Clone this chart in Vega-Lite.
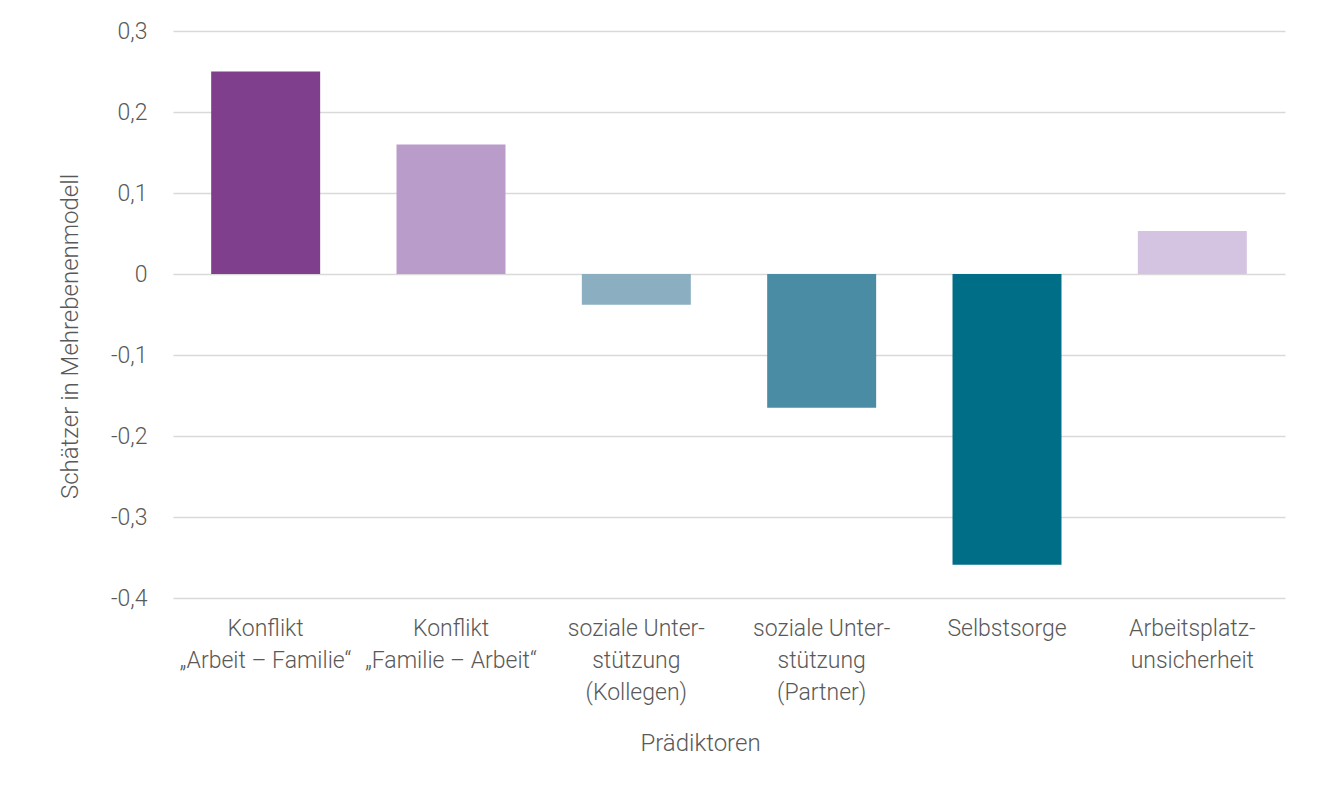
{
  "$schema": "https://vega.github.io/schema/vega-lite/v6.json",
  "width": 1112,
  "height": 567,
  "autosize": {"type": "none"},
  "padding": {"left": 173, "top": 31, "right": 43, "bottom": 201},
  "background": "white",
  "data": {"values": [
    {"p": "Konflikt|„Arbeit – Familie“", "v": 0.25},
    {"p": "Konflikt|„Familie – Arbeit“", "v": 0.16},
    {"p": "soziale Unter-|stützung|(Kollegen)", "v": -0.038},
    {"p": "soziale Unter-|stützung|(Partner)", "v": -0.165},
    {"p": "Selbstsorge", "v": -0.359},
    {"p": "Arbeitsplatz-|unsicherheit", "v": 0.053}
  ]},
  "mark": {"type": "bar"},
  "encoding": {
    "x": {
      "field": "p", "type": "nominal", "sort": null,
      "scale": {"paddingInner": 0.412, "paddingOuter": 0.206},
      "axis": {
        "title": "Prädiktoren",
        "labelAngle": 0,
        "labelExpr": "split(datum.value, '|')",
        "labelLineHeight": 32,
        "labelPadding": 19,
        "labelFontSize": 23,
        "labelColor": "#595959",
        "labelFont": "Roboto",
        "labelFontWeight": 300,
        "labelLimit": 300,
        "ticks": false,
        "domain": false,
        "titleFont": "Roboto",
        "titleFontWeight": 300,
        "titleFontSize": 24,
        "titleColor": "#595959",
        "titleX": 527,
        "titleY": 145,
        "titleBaseline": "middle",
        "titleAlign": "center"
      }
    },
    "y": {
      "field": "v", "type": "quantitative",
      "scale": {"domain": [-0.4, 0.3], "nice": false, "zero": false},
      "axis": {
        "title": "Schätzer in Mehrebenenmodell",
        "values": [-0.4, -0.3, -0.2, -0.1, 0, 0.1, 0.2, 0.3],
        "labelExpr": "replace(toString(round(datum.value*10)/10), '.', ',')",
        "labelFontSize": 23,
        "labelColor": "#595959",
        "labelFont": "Roboto",
        "labelFontWeight": 300,
        "labelPadding": 26,
        "ticks": false,
        "domain": false,
        "grid": true,
        "gridColor": "#d9d9d9",
        "gridWidth": 1.5,
        "titleFont": "Roboto",
        "titleFontWeight": 300,
        "titleFontSize": 24,
        "titleColor": "#595959",
        "titleAngle": -90,
        "titleX": -103,
        "titleY": 305,
        "titleBaseline": "middle",
        "titleAlign": "center"
      }
    },
    "color": {
      "field": "p", "type": "nominal", "legend": null,
      "scale": {
        "domain": ["Konflikt|„Arbeit – Familie“", "Konflikt|„Familie – Arbeit“", "soziale Unter-|stützung|(Kollegen)", "soziale Unter-|stützung|(Partner)", "Selbstsorge", "Arbeitsplatz-|unsicherheit"],
        "range": ["#7f3f8c", "#b99cc9", "#8bafc1", "#4a8ca3", "#006e87", "#d4c4e1"]
      }
    }
  },
  "config": {"view": {"stroke": null}}
}
